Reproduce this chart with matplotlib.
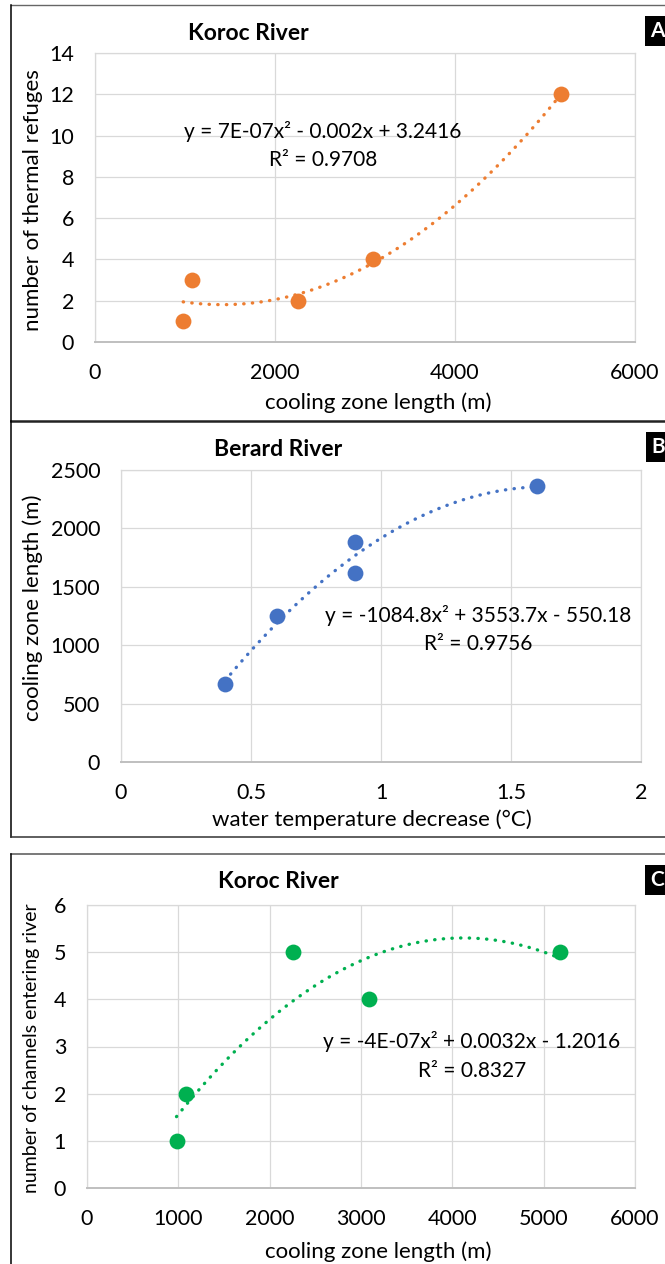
import numpy as np
import matplotlib
matplotlib.use("Agg")
import matplotlib.pyplot as plt
from matplotlib.lines import Line2D

# --- data ---
koroc_length = [980, 1080, 2260, 3090, 5180]
koroc_refuges = [1, 3, 2, 4, 12]
koroc_channels = [1, 2, 5, 4, 5]

berard_temp_drop = [0.4, 0.6, 0.9, 0.9, 1.6]
berard_length = [665, 1250, 1880, 1620, 2360]

eq_a = ["y = 7E-07x² - 0.002x + 3.2416", "R² = 0.9708"]
eq_b = ["y = -1084.8x² + 3553.7x - 550.18", "R² = 0.9756"]
eq_c = ["y = -4E-07x² + 0.0032x - 1.2016", "R² = 0.8327"]

ORANGE = "#ED7D31"
BLUE = "#4472C4"
GREEN = "#00B050"
GRID = "#D9D9D9"

plt.rcParams["font.family"] = ["Lato", "DejaVu Sans"]

W, H = 665, 1264
fig = plt.figure(figsize=(W / 100, H / 100), dpi=100)


def fx(x):
    return x / W


def fy(y):
    return 1 - y / H


def make_axes(left, right, top, bottom):
    ax = fig.add_axes([fx(left), fy(bottom), (right - left) / W, (bottom - top) / H])
    ax.grid(True, color=GRID, lw=0.9)
    ax.set_axisbelow(True)
    for s in ["left", "top", "right"]:
        ax.spines[s].set_color(GRID)
        ax.spines[s].set_linewidth(0.9)
    ax.spines["bottom"].set_color("#BFBFBF")
    ax.spines["bottom"].set_linewidth(1.4)
    ax.tick_params(length=0, labelsize=15.5, pad=15, colors="black")
    return ax


def panel(ax, x, y, color, xticks, yticks, title_xy, eq, eq_xy, xlab, xlab_xy,
          ylab, ylab_xy, ylab_size=16):
    ax.set_xlim(xticks[0], xticks[-1])
    ax.set_ylim(yticks[0], yticks[-1])
    ax.set_xticks(xticks)
    ax.set_yticks(yticks)
    # quadratic trendline like Excel's
    coef = np.polyfit(x, y, 2)
    xs = np.linspace(min(x), max(x), 200)
    ax.plot(xs, np.polyval(coef, xs), color=color, lw=2.4,
            linestyle=(0, (0.1, 2.5)), dash_capstyle="round", zorder=2)
    ax.scatter(x, y, s=130, color=color, zorder=3, linewidths=0)
    fig.text(fx(title_xy[0]), fy(title_xy[1]), title_xy[2], fontsize=16.5,
             fontweight="bold", ha="center", va="center")
    fig.text(fx(eq_xy[0]), fy(eq_xy[1]), eq[0], fontsize=15, ha="center", va="center")
    fig.text(fx(eq_xy[0]), fy(eq_xy[1] + 29), eq[1], fontsize=15, ha="center", va="center")
    fig.text(fx(xlab_xy[0]), fy(xlab_xy[1]), xlab, fontsize=16, ha="center", va="center")
    fig.text(fx(ylab_xy[0]), fy(ylab_xy[1]), ylab, fontsize=ylab_size, ha="center",
             va="center", rotation=90)


# --- panel A ---
ax_a = make_axes(95, 635, 53, 342)
panel(ax_a, koroc_length, koroc_refuges, ORANGE,
      [0, 2000, 4000, 6000], [0, 2, 4, 6, 8, 10, 12, 14],
      (248, 33, "Koroc River"), eq_a, (323, 131),
      "cooling zone length (m)", (378, 403),
      "number of thermal refuges", (33, 200))

# --- panel B ---
ax_b = make_axes(121, 641, 470, 762)
panel(ax_b, berard_temp_drop, berard_length, BLUE,
      [0, 0.5, 1, 1.5, 2], [0, 500, 1000, 1500, 2000, 2500],
      (278, 449, "Berard River"), eq_b, (478, 615),
      "water temperature decrease (°C)", (372, 820),
      "cooling zone length (m)", (33, 608))
ax_b.set_xticklabels(["0", "0.5", "1", "1.5", "2"])

# --- panel C ---
ax_c = make_axes(87, 635, 905, 1188)
panel(ax_c, koroc_length, koroc_channels, GREEN,
      [0, 1000, 2000, 3000, 4000, 5000, 6000], [0, 1, 2, 3, 4, 5, 6],
      (278, 882, "Koroc River"), eq_c, (472, 1042),
      "cooling zone length (m)", (378, 1252),
      "number of channels entering river", (32, 1048), ylab_size=14)

# --- panel frames ---
def hline(y, x0, x1, color, lw):
    fig.add_artist(Line2D([fx(x0), fx(x1)], [fy(y), fy(y)], color=color, lw=lw))


def vline(x, y0, y1, color, lw):
    fig.add_artist(Line2D([fx(x), fx(x)], [fy(y0), fy(y1)], color=color, lw=lw))


hline(5, 11, W, "#666666", 1.0)
vline(11, 5, 421, "black", 1.1)
hline(421, 11, W, "#222222", 1.8)
vline(11, 421, 837, "black", 1.1)
hline(837, 11, W, "#333333", 1.1)
hline(854, 11, W, "#555555", 1.1)
vline(11, 854, H, "black", 1.1)

# --- panel letters ---
for letter, xl, yl in [("A", 650, 31), ("B", 651, 447), ("C", 650, 880)]:
    fig.text(fx(xl), fy(yl), letter, fontsize=15, fontweight="bold", color="white",
             ha="left", va="center",
             bbox=dict(boxstyle="square,pad=0.25", fc="black", ec="none"))

fig.savefig("out.png", dpi=100)
plt.close(fig)
